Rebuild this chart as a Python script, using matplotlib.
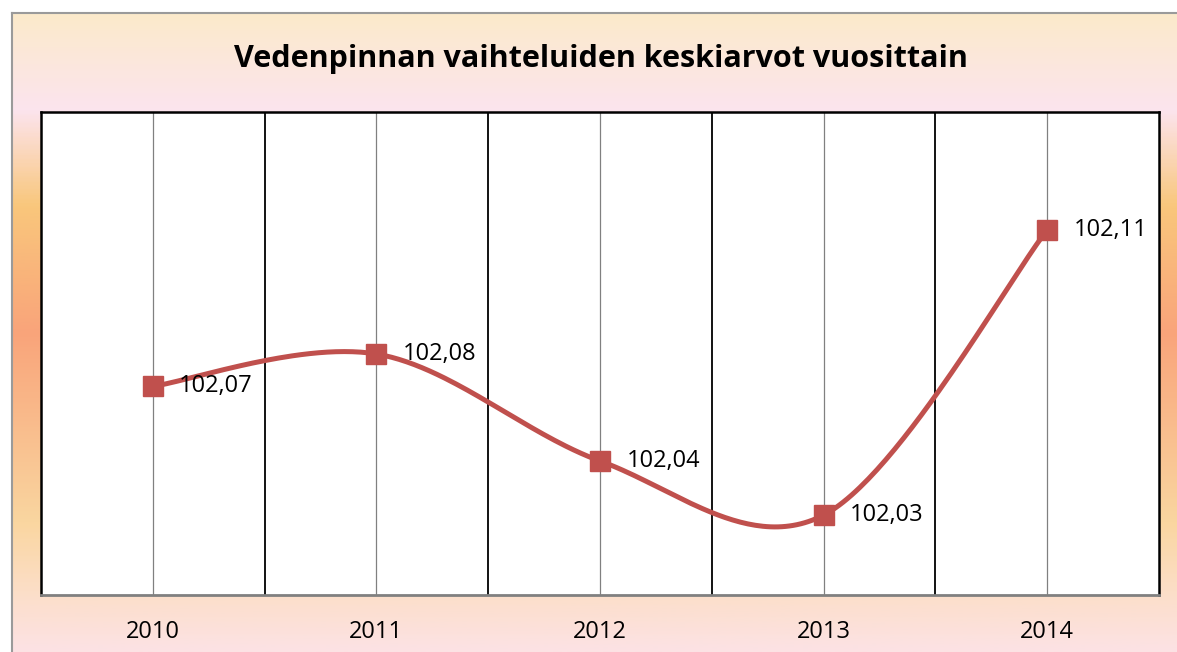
import matplotlib
matplotlib.use('Agg')
import matplotlib.pyplot as plt
from matplotlib.colors import LinearSegmentedColormap
import numpy as np

plt.rcParams['font.family'] = ['Open Sans', 'DejaVu Sans']

# Data (values estimated from the point positions; labels are rounded)
years = ['2010', '2011', '2012', '2013', '2014']
levels = [102.066, 102.0758, 102.0434, 102.027, 102.1134]
title = 'Vedenpinnan vaihteluiden keskiarvot vuosittain'

line_color = '#C0504D'

W, H = 1177, 652
fig = plt.figure(figsize=(W / 100, H / 100), dpi=100)
fig.patch.set_facecolor('white')

# Chart area background: vertical gradient like the Excel preset
bg = fig.add_axes([12 / W, 0, 1 - 12 / W, 1 - 13 / H])
grad_cmap = LinearSegmentedColormap.from_list('sunset', [
    (0.00, '#FBEACB'),
    (0.15, '#FCE4EE'),
    (0.30, '#F9C77C'),
    (0.50, '#F9A47A'),
    (0.80, '#FAD6A0'),
    (0.92, '#FCDFCC'),
    (1.00, '#FCE2E4'),
])
grad = np.linspace(0, 1, 400).reshape(-1, 1)
bg.imshow(grad, aspect='auto', cmap=grad_cmap, extent=[0, 1, 0, 1], origin='upper')
bg.set_xlim(0, 1)
bg.set_ylim(0, 1)
bg.set_xticks([])
bg.set_yticks([])
for side in ['right', 'bottom']:
    bg.spines[side].set_visible(False)
for side in ['left', 'top']:
    bg.spines[side].set_color('#9A9A9A')
    bg.spines[side].set_linewidth(1.5)

fig.text(601 / W, 1 - 59 / H, title, ha='center', va='center',
         fontsize=22, fontweight='bold', color='black')

# Plot area
left, right, top, bottom = 41, 1159, 112, 595
ax = fig.add_axes([left / W, 1 - bottom / H, (right - left) / W, (bottom - top) / H])
ax.set_facecolor('white')

n = len(years)
x = np.arange(n)
ax.set_xlim(-0.5, n - 0.5)
ax.set_ylim(102.0028, 102.1491)

# gridlines: black at category borders, gray at category centres
for b in np.arange(0.5, n - 0.5, 1):
    ax.axvline(b, color='black', lw=1.3, zorder=1)
for c in x:
    ax.axvline(c, color='#808080', lw=0.9, zorder=1)

# Excel-style smoothed line (Catmull-Rom as cubic Bezier)
pts = np.column_stack([x, levels]).astype(float)
padded = np.vstack([pts[0], pts, pts[-1]])
curve = []
t = np.linspace(0, 1, 60)[:, None]
for i in range(n - 1):
    p0, p1, p2, p3 = padded[i], padded[i + 1], padded[i + 2], padded[i + 3]
    b1 = p1 + (p2 - p0) / 6
    b2 = p2 - (p3 - p1) / 6
    seg = ((1 - t) ** 3) * p1 + 3 * ((1 - t) ** 2) * t * b1 + 3 * (1 - t) * t ** 2 * b2 + t ** 3 * p2
    curve.append(seg)
curve = np.vstack(curve)
ax.plot(curve[:, 0], curve[:, 1], color=line_color, lw=3.6, solid_capstyle='round', zorder=3)
ax.plot(x, levels, linestyle='none', marker='s', markersize=14,
        color=line_color, markeredgecolor=line_color, zorder=4)

for xi, v in zip(x, levels):
    label = f'{v:.2f}'.replace('.', ',')
    ax.annotate(label, (xi, v), xytext=(19, 0), textcoords='offset points',
                ha='left', va='center', fontsize=17, color='black', zorder=5)

ax.set_xticks(x)
ax.set_xticklabels(years, fontsize=17)
ax.tick_params(axis='x', length=0, pad=18)
ax.set_yticks([])
for side in ['left', 'top', 'right']:
    ax.spines[side].set_color('black')
    ax.spines[side].set_linewidth(1.8)
ax.spines['bottom'].set_color('#808080')
ax.spines['bottom'].set_linewidth(2)

fig.savefig('out.png', dpi=100)
